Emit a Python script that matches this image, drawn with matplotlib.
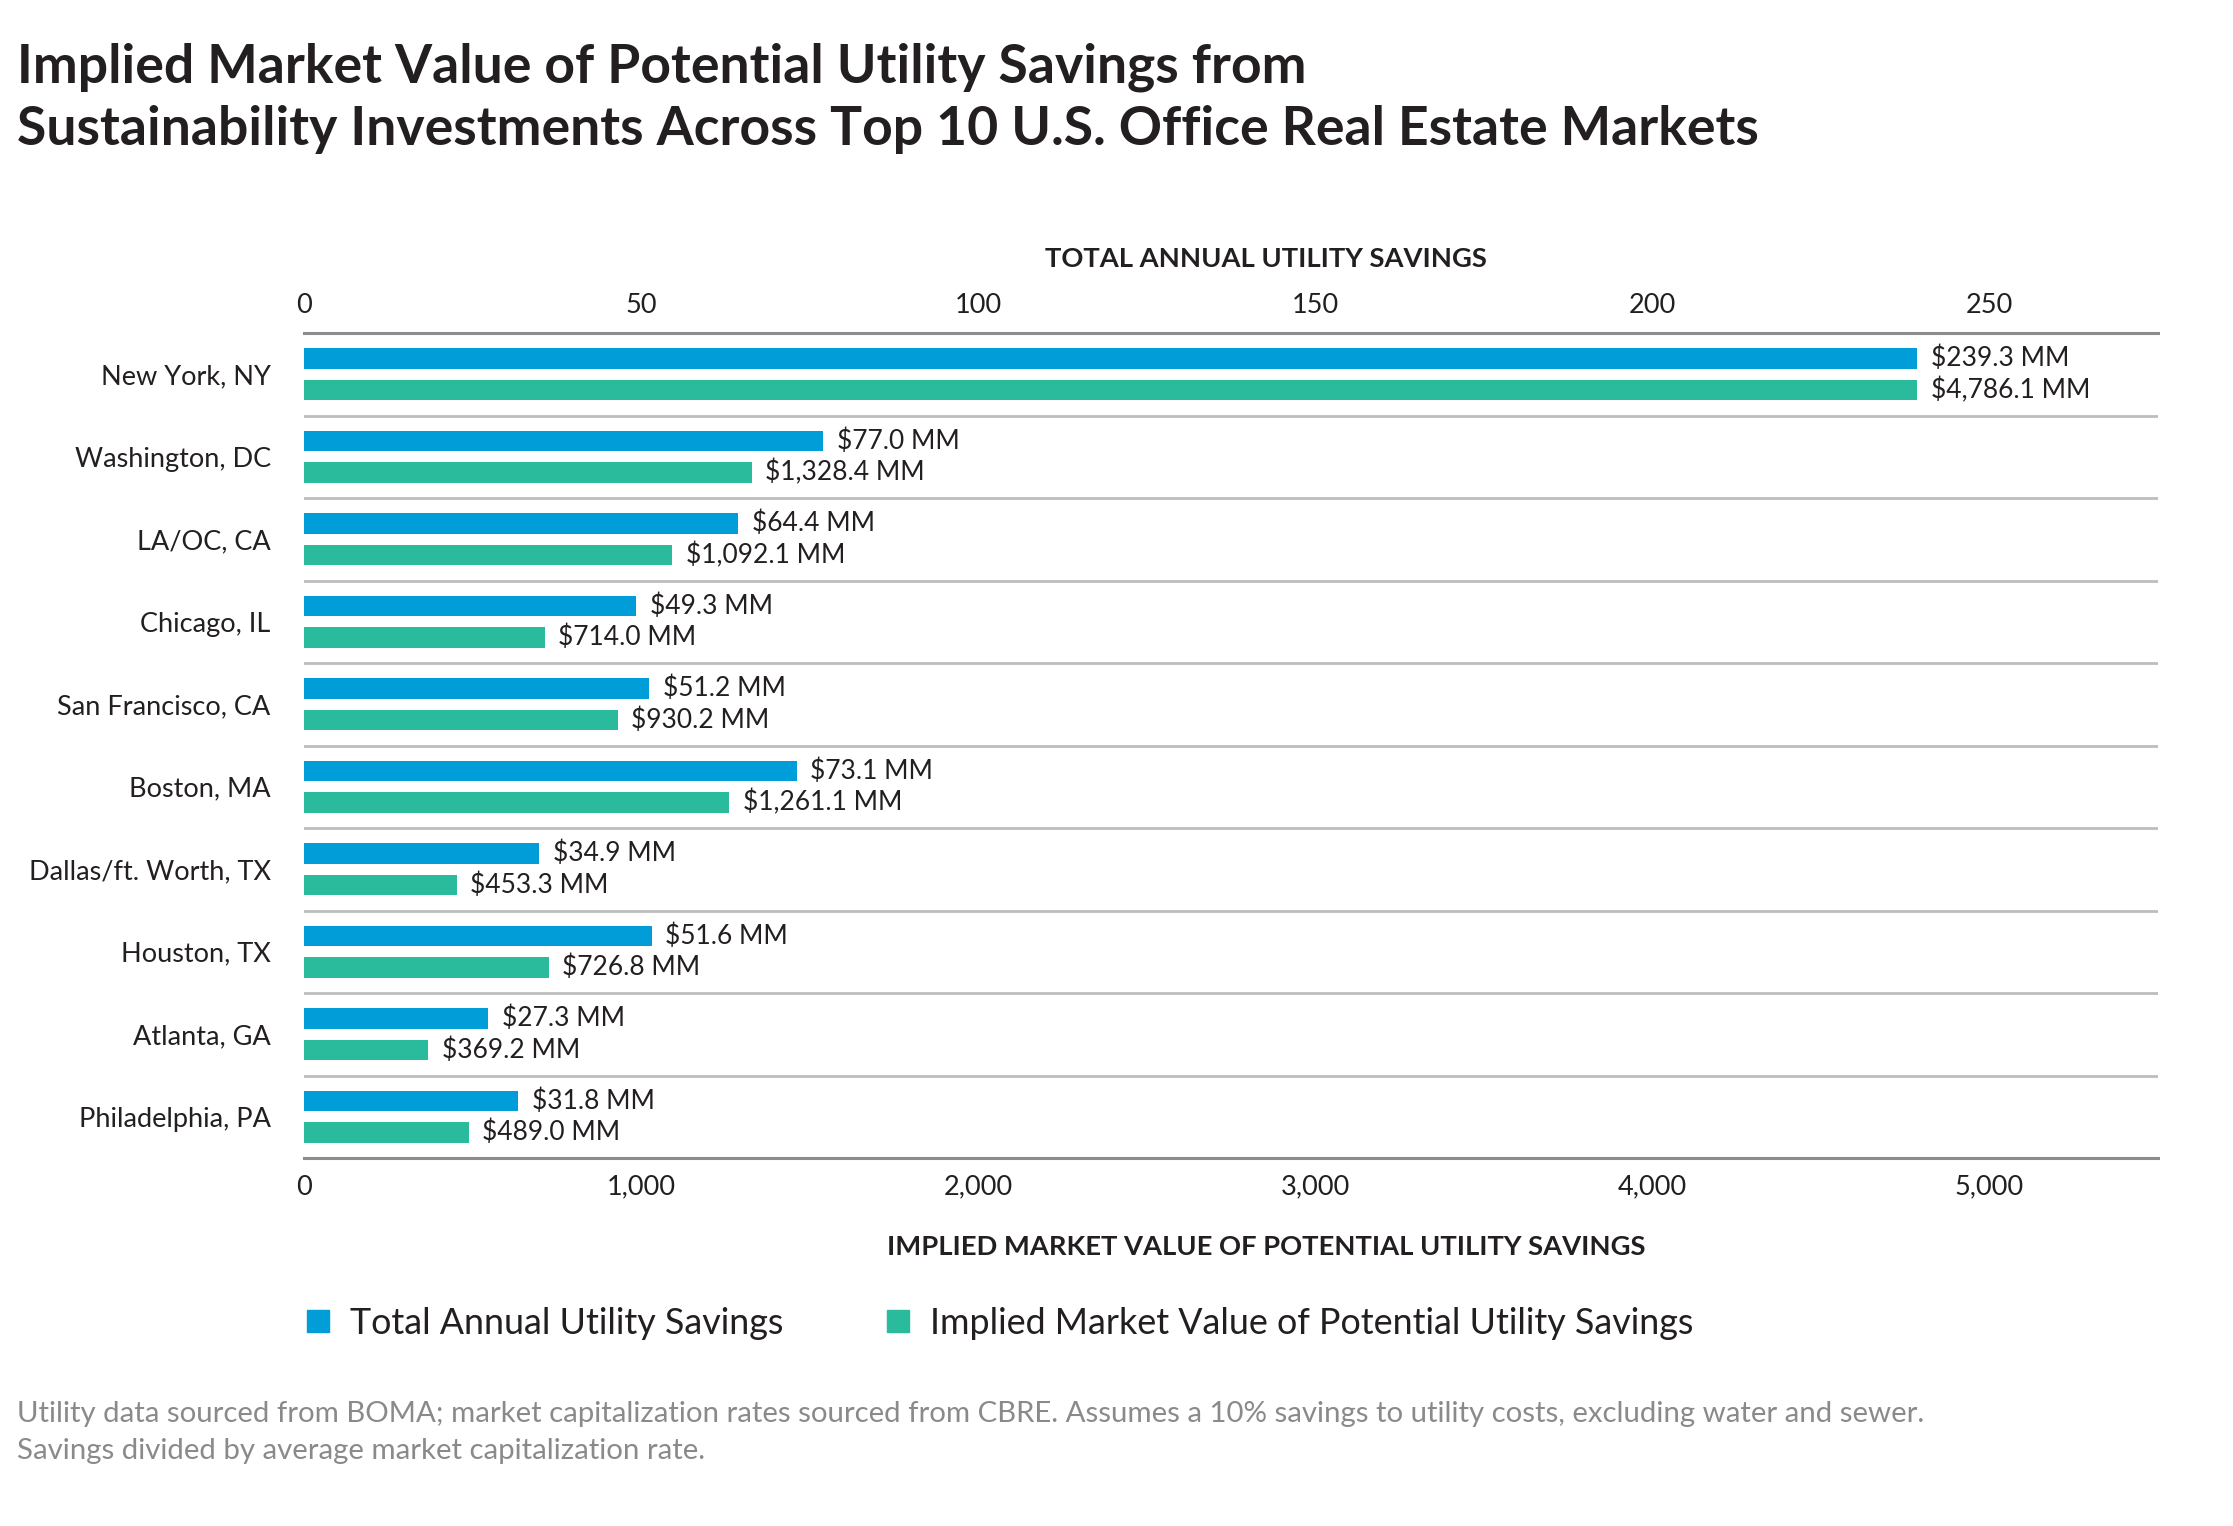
import numpy as np
import matplotlib.pyplot as plt
from matplotlib.lines import Line2D

plt.rcParams['font.family'] = ['Lato', 'DejaVu Sans']

markets = ["New York, NY", "Washington, DC", "LA/OC, CA", "Chicago, IL", "San Francisco, CA",
           "Boston, MA", "Dallas/ft. Worth, TX", "Houston, TX", "Atlanta, GA", "Philadelphia, PA"]
annual_savings = [239.3, 77.0, 64.4, 49.3, 51.2, 73.1, 34.9, 51.6, 27.3, 31.8]        # $MM, top axis
market_value = [4786.1, 1328.4, 1092.1, 714.0, 930.2, 1261.1, 453.3, 726.8, 369.2, 489.0]  # $MM, bottom axis
top_ticks = [0, 50, 100, 150, 200, 250]
bottom_ticks = [0, 1000, 2000, 3000, 4000, 5000]

blue = "#019dd9"
green = "#2abb9d"
txt = "#231f20"

W, H = 2233, 1526
fig = plt.figure(figsize=(W / 100, H / 100), dpi=100)
ax = fig.add_axes([304 / W, 1 - 1158 / H, (2158 - 304) / W, (1158 - 333) / H])
ax2 = ax.twiny()

y = np.arange(len(markets))
bh = 0.245
off = 0.19

# green on bottom scale, blue on top scale
ax.barh(y + off, market_value, height=bh, color=green)
ax2.barh(y - off, annual_savings, height=bh, color=blue)

ax.set_xlim(0, 5500)
ax2.set_xlim(0, 275)
ax.set_ylim(len(markets) - 0.5, -0.5)

for i in range(len(markets)):
    ax2.text(annual_savings[i] + 2.0, y[i] - off, "$%.1f MM" % annual_savings[i],
             va="center", ha="left", fontsize=19, color=txt)
    ax.text(market_value[i] + 40, y[i] + off, "${:,.1f} MM".format(market_value[i]),
            va="center", ha="left", fontsize=19, color=txt)

# row separators
for k in range(1, len(markets)):
    ax.axhline(k - 0.5, color="#bdbdbd", lw=2, zorder=0)

for a in (ax, ax2):
    for s in a.spines.values():
        s.set_visible(False)
for side in ("top", "bottom"):
    ax.spines[side].set_visible(True)
    ax.spines[side].set_color("#8c8c8c")
    ax.spines[side].set_linewidth(2.2)

ax.set_yticks(y)
ax.set_yticklabels(markets, fontsize=19.5, color=txt)
ax.tick_params(axis="y", length=0, pad=24)

ax.set_xticks(bottom_ticks)
ax.set_xticklabels(["{:,}".format(t) for t in bottom_ticks], fontsize=19.5, color=txt)
ax.tick_params(axis="x", length=0, pad=12)

ax2.set_xticks(top_ticks)
ax2.set_xticklabels([str(t) for t in top_ticks], fontsize=19.5, color=txt)
ax2.tick_params(axis="x", length=0, pad=11)

fig.text(1266 / W, 1 - 259 / H, "TOTAL ANNUAL UTILITY SAVINGS", ha="center", va="center",
         fontsize=19.7, fontweight="bold", color=txt)
fig.text(1266 / W, 1 - 1247 / H, "IMPLIED MARKET VALUE OF POTENTIAL UTILITY SAVINGS", ha="center",
         va="center", fontsize=19.7, fontweight="bold", color=txt)

fig.text(17 / W, 1 - 67 / H, "Implied Market Value of Potential Utility Savings from",
         ha="left", va="center", fontsize=38.5, fontweight="bold", color=txt)
fig.text(17 / W, 1 - 130 / H, "Sustainability Investments Across Top 10 U.S. Office Real Estate Markets",
         ha="left", va="center", fontsize=38.5, fontweight="bold", color=txt)

handles = [Line2D([], [], marker="s", ls="", color=blue, markersize=16),
           Line2D([], [], marker="s", ls="", color=green, markersize=16)]
leg = fig.legend(handles, ["Total Annual Utility Savings", "Implied Market Value of Potential Utility Savings"],
                 loc="center left", bbox_to_anchor=(272 / W, 1 - 1323 / H), ncol=2, frameon=False,
                 fontsize=25.8, handlelength=0.78, handletextpad=0.5, columnspacing=2.8)
for t in leg.get_texts():
    t.set_color(txt)

fig.text(17 / W, 1 - 1414 / H,
         "Utility data sourced from BOMA; market capitalization rates sourced from CBRE. "
         "Assumes a 10% savings to utility costs, excluding water and sewer.",
         ha="left", va="center", fontsize=21.2, color="#8a8a8d")
fig.text(17 / W, 1 - 1451 / H, "Savings divided by average market capitalization rate.",
         ha="left", va="center", fontsize=21.2, color="#8a8a8d")

fig.savefig("out.png", dpi=100)
